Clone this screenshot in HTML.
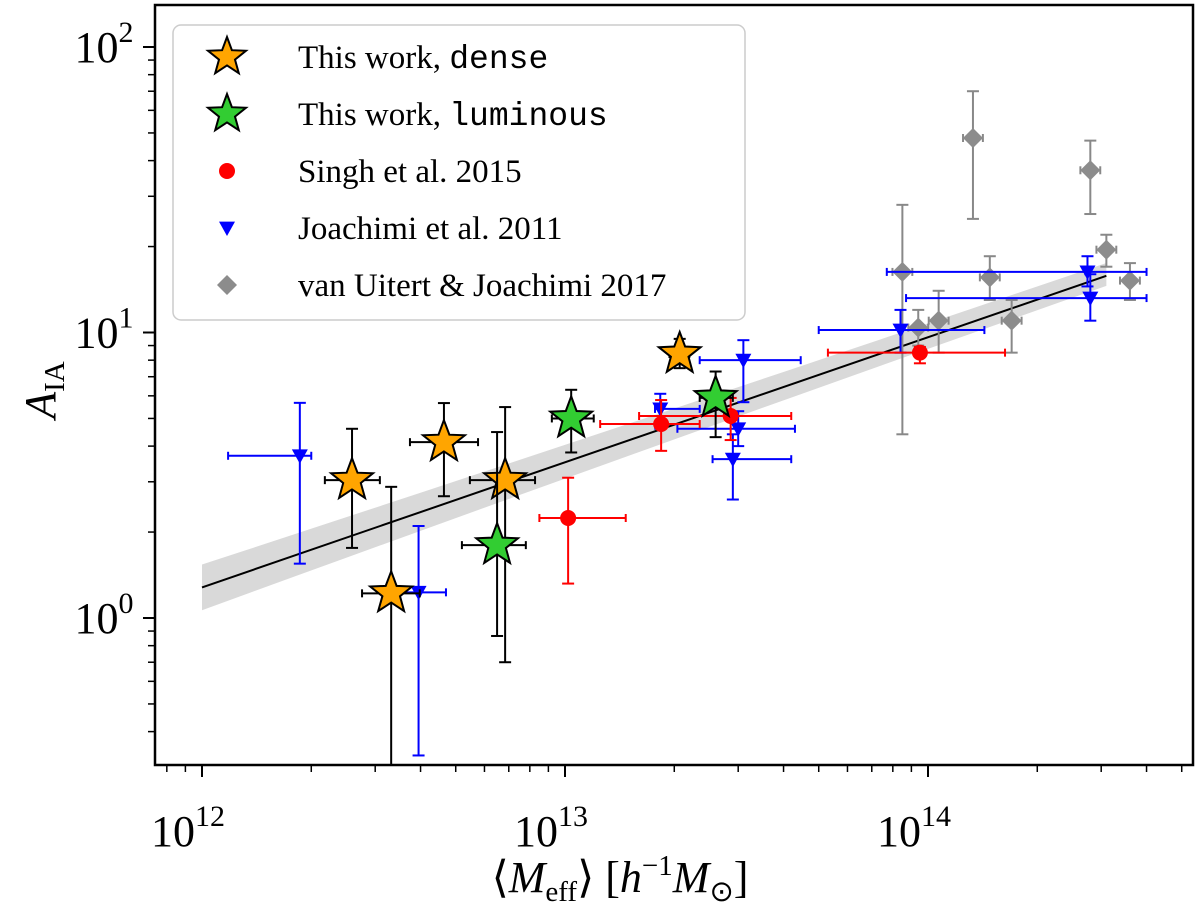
<!DOCTYPE html>
<html><head><meta charset="utf-8"><style>
html,body{margin:0;padding:0;background:#fff;}
svg{display:block;font-family:"Liberation Serif",serif;}
</style></head><body>
<svg id="chart" width="1200" height="910" viewBox="0 0 1200 910">
<g id="band"></g>
<g id="grid"></g>
<g id="series"></g>
<rect x="155" y="5" width="1038" height="760" fill="none" stroke="#000" stroke-width="2.5"/>
<g id="ticks"></g>
<text x="620" y="892" font-size="44" text-anchor="middle">⟨<tspan font-style="italic">M</tspan><tspan font-size="29" dy="9">eff</tspan><tspan dy="-9">⟩ [</tspan><tspan font-style="italic">h</tspan><tspan font-size="29" dy="-17">−1</tspan><tspan font-style="italic" dy="17">M</tspan><tspan font-size="29" dy="9">⊙</tspan><tspan dy="-9">]</tspan></text>
<text transform="translate(55,390) rotate(-90)" font-size="44" text-anchor="middle"><tspan font-style="italic">A</tspan><tspan font-size="29" dy="9">IA</tspan></text>
<g id="legend">
<rect x="173" y="25" width="572" height="295" rx="8" fill="#fff" fill-opacity="0.85" stroke="#ccc" stroke-width="1.5"/>
</g>
</svg>
<script>
const X0=202, XD=363, Y0=618, YD=285.5;
function X(m){return X0+XD*Math.log10(m/1e12);}
function Y(a){return Y0-YD*Math.log10(a);}

const denseM=[2.59e12,4.64e12,3.32e12,6.84e12,2.07e13];
const denseA=[3.04,4.13,1.22,3.04,8.41];
const denseMlo=[2.18e12,3.74e12,2.76e12,5.47e12,1.94e13];
const denseMhi=[3.09e12,5.76e12,3.98e12,8.27e12,2.2e13];
const denseAlo=[1.76,2.67,0.3,0.70,7.5];
const denseAhi=[4.6,5.66,2.88,5.48,9.5];

const lumM=[6.5e12,1.04e13,2.6e13];
const lumA=[1.8,5.0,5.9];
const lumMlo=[5.2e12,9.2e12,2.35e13];
const lumMhi=[7.8e12,1.2e13,2.9e13];
const lumAlo=[0.865,3.8,4.3];
const lumAhi=[4.48,6.3,7.3];

const singhM=[1.02e13,1.84e13,2.86e13,9.5e13];
const singhA=[2.24,4.78,5.1,8.5];
const singhMlo=[8.5e12,1.25e13,1.6e13,5.3e13];
const singhMhi=[1.47e13,2.35e13,4.2e13,1.63e14];
const singhAlo=[1.32,3.85,4.2,7.8];
const singhAhi=[3.1,5.8,5.9,8.9];

const joaM=[1.86e12,3.95e12,1.83e13,3.1e13,3.0e13,2.9e13,8.4e13,2.8e14,2.75e14];
const joaA=[3.7,1.23,5.4,8.0,4.6,3.6,10.2,13.2,16.3];
const joaMlo=[1.18e12,3.4e12,1.77e13,2.35e13,2.04e13,2.55e13,5.0e13,8.7e13,7.7e13];
const joaMhi=[2.0e12,4.7e12,2.35e13,4.46e13,4.3e13,4.2e13,1.43e14,4.0e14,4.0e14];
const joaAlo=[1.55,0.33,4.6,5.7,4.0,2.6,8.5,11,14.5];
const joaAhi=[5.67,2.1,6.1,9.4,5.3,4.4,12,16,18.5];

const vuM=[8.5e13,9.4e13,1.07e14,1.33e14,1.48e14,1.7e14,2.8e14,3.1e14,3.6e14];
const vuA=[16.3,10.4,11,48,15.6,11,37,19.5,15.2];
const vuAlo=[4.4,9,8.5,25,13,8.5,26,17,13];
const vuAhi=[28,12,14,70,18.5,13,47,22,17.5];

const fitM=[1e12,3.1e14];
const fitA=[1.28,15.8];
const fitSlope=0.44;

const NS="http://www.w3.org/2000/svg";
function mk(tag,attrs,parent){const e=document.createElementNS(NS,tag);for(const k in attrs)e.setAttribute(k,attrs[k]);parent.appendChild(e);return e;}
const S=document.getElementById('series'), T=document.getElementById('ticks'), B=document.getElementById('band'), L=document.getElementById('legend');

(function(){
 const top=[],bot=[];
 for(let i=0;i<=20;i++){
  const lm=Math.log10(fitM[0])+i/20*(Math.log10(fitM[1])-Math.log10(fitM[0]));
  const la=Math.log10(fitA[0])+fitSlope*(lm-12);
  const f=i/20;
  const w=0.08-0.06*f+0.02*f*f;
  top.push([X(Math.pow(10,lm)),Y(Math.pow(10,la+w))]);
  bot.push([X(Math.pow(10,lm)),Y(Math.pow(10,la-w))]);
 }
 const pts=top.concat(bot.reverse()).map(p=>p.join(',')).join(' ');
 const p=mk('polygon',{points:pts,fill:'#d9d9d9'},B);
 
 
 const ln=mk('line',{x1:X(fitM[0]),y1:Y(fitA[0]),x2:X(fitM[1]),y2:Y(fitA[1]),stroke:'#000','stroke-width':2},B);
 
 
})();

function errbar(g,x,y,xlo,xhi,ylo,yhi,col){
 const c=4;
 if(xlo!==null){mk('line',{x1:xlo,y1:y,x2:xhi,y2:y,stroke:col,'stroke-width':2},g);
  mk('line',{x1:xlo,y1:y-c,x2:xlo,y2:y+c,stroke:col,'stroke-width':2},g);
  mk('line',{x1:xhi,y1:y-c,x2:xhi,y2:y+c,stroke:col,'stroke-width':2},g);}
 mk('line',{x1:x,y1:Math.min(ylo,765),x2:x,y2:yhi,stroke:col,'stroke-width':2},g);
 if(ylo<765)mk('line',{x1:x-6,y1:ylo,x2:x+6,y2:ylo,stroke:col,'stroke-width':2},g);
 mk('line',{x1:x-6,y1:yhi,x2:x+6,y2:yhi,stroke:col,'stroke-width':2},g);
}
function star(cx,cy,r,fill,parent){
 const pts=[];for(let i=0;i<10;i++){const rr=i%2?r*0.42:r;const a=-Math.PI/2+i*Math.PI/5;pts.push((cx+rr*Math.cos(a)).toFixed(1)+','+(cy+rr*Math.sin(a)).toFixed(1));}
 return mk('polygon',{points:pts.join(' '),fill:fill,stroke:'#000','stroke-width':2,'stroke-linejoin':'miter'},parent);
}
function tri(cx,cy,s,fill,parent){return mk('polygon',{points:`${cx-s},${cy-s*0.8} ${cx+s},${cy-s*0.8} ${cx},${cy+s}`,fill:fill},parent);}
function dia(cx,cy,s,fill,parent){return mk('polygon',{points:`${cx},${cy-s} ${cx+s},${cy} ${cx},${cy+s} ${cx-s},${cy}`,fill:fill},parent);}

vuM.forEach((m,i)=>{const g=mk('g',{},S);
 
 
 const x=X(m),y=Y(vuA[i]);errbar(g,x,y,X(m/1.065),X(m*1.065),Y(vuAlo[i]),Y(vuAhi[i]),'#888');dia(x,y,10,'#8c8c8c',g);});
joaM.forEach((m,i)=>{const g=mk('g',{},S);
 
 
 const x=X(m),y=Y(joaA[i]);errbar(g,x,y,X(joaMlo[i]),X(joaMhi[i]),Y(joaAlo[i]),Y(joaAhi[i]),'#0000ff');tri(x,y,8,'#0000ff',g);});
singhM.forEach((m,i)=>{const g=mk('g',{},S);
 
 
 const x=X(m),y=Y(singhA[i]);errbar(g,x,y,X(singhMlo[i]),X(singhMhi[i]),Y(singhAlo[i]),Y(singhAhi[i]),'#ff0000');mk('circle',{cx:x,cy:y,r:8,fill:'#ff0000'},g);});
denseM.forEach((m,i)=>{const g=mk('g',{},S);
 
 
 const x=X(m),y=Y(denseA[i]);errbar(g,x,y,X(denseMlo[i]),X(denseMhi[i]),Y(denseAlo[i]),Y(denseAhi[i]),'#000');star(x,y,22,'#ffa500',g);});
lumM.forEach((m,i)=>{const g=mk('g',{},S);
 
 
 const x=X(m),y=Y(lumA[i]);errbar(g,x,y,X(lumMlo[i]),X(lumMhi[i]),Y(lumAlo[i]),Y(lumAhi[i]),'#000');star(x,y,22,'#32cd32',g);});

function txt(x,y,html,anchor,parent,name){const t=mk('text',{x:x,y:y,'font-size':44,'text-anchor':anchor},parent);t.innerHTML=html;
 
 return t;}
const xExp=[12,13,14];
xExp.forEach(e=>{const x=X(Math.pow(10,e));mk('line',{x1:x,y1:765,x2:x,y2:777,stroke:'#000','stroke-width':2},T);
 txt(x-14,846,'10<tspan font-size="30" dy="-20">'+e+'</tspan>','middle',T,'x-tick-label');});
for(let e=11;e<=14;e++)for(let k=2;k<=9;k++){const m=k*Math.pow(10,e);const x=X(m);if(x<156||x>1192)continue;mk('line',{x1:x,y1:765,x2:x,y2:772,stroke:'#000','stroke-width':1.5},T);}
const yExp=[0,1,2];
yExp.forEach(e=>{const y=Y(Math.pow(10,e));mk('line',{x1:143,y1:y,x2:155,y2:y,stroke:'#000','stroke-width':2},T);
 txt(104,y+15,'10<tspan font-size="30" dy="-20">'+e+'</tspan>','middle',T,'y-tick-label');});
for(let e=-1;e<=2;e++)for(let k=2;k<=9;k++){const y=Y(k*Math.pow(10,e));if(y<6||y>764)continue;mk('line',{x1:148,y1:y,x2:155,y2:y,stroke:'#000','stroke-width':1.5},T);}

const legY=[57,114,171,228,285];
const legLabels=['This work, <tspan font-family="Liberation Mono">dense</tspan>','This work, <tspan font-family="Liberation Mono">luminous</tspan>','Singh et al. 2015','Joachimi et al. 2011','van Uitert &amp; Joachimi 2017'];
star(227,legY[0],20,'#ffa500',L);star(227,legY[1],20,'#32cd32',L);
mk('circle',{cx:227,cy:legY[2],r:8,fill:'#ff0000'},L);tri(227,legY[3],8,'#0000ff',L);dia(227,legY[4],10,'#8c8c8c',L);
legLabels.forEach((s,i)=>{const t=mk('text',{x:298,y:legY[i]+11,'font-size':33},L);t.innerHTML=s;
 
 });
</script>
</body></html>
